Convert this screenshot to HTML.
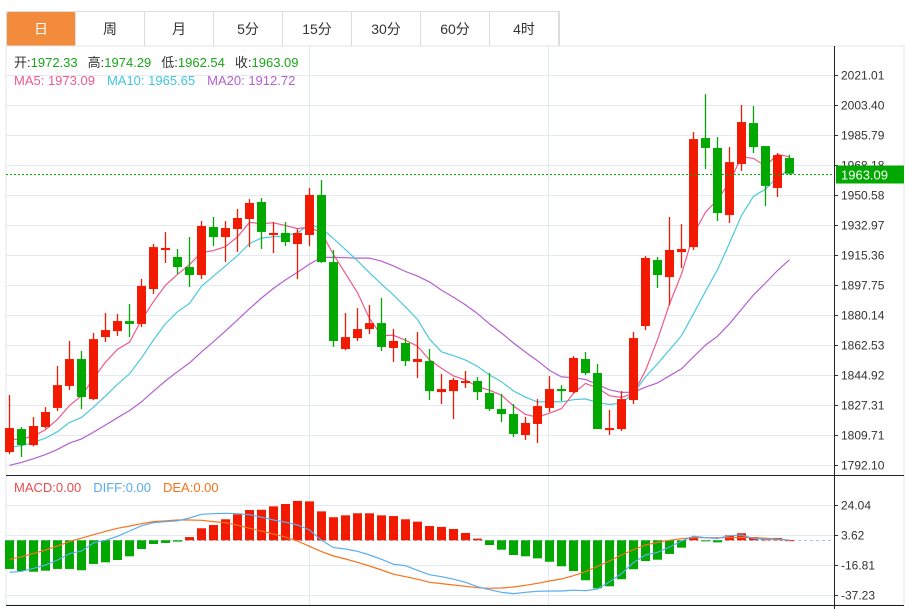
<!DOCTYPE html>
<html><head><meta charset="utf-8"><style>
body{margin:0;background:#fff;width:910px;height:609px;overflow:hidden;font-family:"Liberation Sans","Noto Sans CJK SC",sans-serif}
#tabs{position:absolute;left:6px;top:11px;height:34px;display:flex;border:1px solid #dcdcdc;border-bottom:none}
.tab{width:69px;height:34px;line-height:34px;text-align:center;font-size:14px;color:#333;border-right:1px solid #dcdcdc;box-sizing:border-box}
.tab.on{background:#f28c3c;color:#fff;border-radius:2px}
svg{position:absolute;left:0;top:0}
</style></head><body>
<div id="tabs">
<div class="tab on">日</div>
<div class="tab">周</div>
<div class="tab">月</div>
<div class="tab">5分</div>
<div class="tab">15分</div>
<div class="tab">30分</div>
<div class="tab">60分</div>
<div class="tab">4时</div>
</div>
<svg id="chart" width="910" height="609" font-family="Liberation Sans, Noto Sans CJK SC, sans-serif"></svg>
<script>
const opens=[1799.7,1813.2,1803.8,1814.4,1825.6,1838.5,1854.3,1830.8,1867.2,1870.7,1876.6,1874.9,1895.4,1918.3,1914.2,1908.3,1903.6,1931.8,1925.9,1930.6,1936.5,1946.5,1927.1,1928.3,1921.8,1927.1,1950.6,1911.2,1860.2,1866.6,1871.9,1875.4,1860.8,1863.7,1852.6,1853.1,1834.9,1835.5,1840.2,1841.4,1834.4,1825.0,1822.0,1809.7,1816.2,1825.6,1836.7,1834.9,1854.3,1846.1,1812.6,1813.2,1830.2,1873.7,1912.4,1902.4,1917.1,1920.0,1984.0,1978.2,1938.8,1968.8,1992.8,1979.3,1954.7,1972.33];
const highs=[1833.2,1814.4,1820.3,1826.1,1850.2,1864.9,1859.0,1869.6,1881.3,1880.7,1886.6,1901.3,1921.8,1928.9,1918.9,1925.9,1935.3,1937.7,1935.3,1942.4,1948.2,1948.8,1934.7,1934.7,1930.6,1954.7,1959.4,1918.3,1881.3,1884.2,1886.0,1890.1,1871.9,1866.6,1870.2,1860.2,1845.5,1843.2,1847.3,1843.7,1846.1,1833.8,1827.9,1820.3,1830.8,1844.3,1839.0,1856.1,1858.4,1851.4,1824.4,1835.5,1870.2,1914.8,1914.2,1937.7,1933.5,1987.5,2009.8,1984.6,1978.7,2003.4,2002.8,1979.3,1975.2,1974.29];
const lows=[1798.5,1796.8,1803.0,1813.5,1823.8,1836.1,1825.0,1830.2,1864.3,1867.8,1867.2,1873.1,1892.5,1910.7,1904.2,1896.6,1901.3,1920.6,1911.2,1917.1,1920.0,1918.9,1916.5,1920.6,1901.3,1920.6,1910.7,1861.4,1859.5,1864.9,1869.0,1859.0,1852.6,1850.2,1843.2,1830.2,1827.9,1819.1,1837.3,1830.2,1823.8,1817.3,1808.5,1806.8,1805.0,1823.2,1829.7,1834.4,1844.9,1813.2,1809.7,1812.1,1827.9,1871.3,1896.0,1886.0,1907.7,1918.3,1965.8,1935.3,1934.1,1964.7,1975.2,1944.1,1949.4,1962.54];
const closes=[1813.8,1803.8,1815.0,1823.2,1839.0,1854.3,1832.0,1866.0,1871.3,1876.6,1874.9,1897.2,1920.0,1919.5,1908.3,1903.6,1932.4,1925.9,1931.2,1937.1,1945.9,1928.9,1928.3,1923.0,1928.3,1950.6,1911.2,1864.9,1867.2,1871.9,1875.4,1861.4,1864.9,1853.1,1854.3,1835.5,1836.7,1842.0,1841.4,1834.9,1825.0,1822.0,1810.3,1816.8,1826.7,1836.7,1835.5,1854.9,1846.1,1813.2,1813.8,1830.8,1866.6,1913.6,1903.6,1918.3,1918.9,1983.4,1978.2,1940.0,1969.9,1993.4,1978.7,1955.9,1974.0,1963.09];
const priorCloses=[1770,1772,1775,1778,1780,1783,1786,1788,1790,1792,1794,1796,1798,1801,1800,1803,1806,1805,1808];
const macdBars=[-19.5,-20.9,-21.4,-20.7,-19.5,-19.5,-20.4,-16.1,-15.0,-13.4,-10.9,-5.9,-2.5,-1.8,-0.9,2.2,8.2,10.4,14.3,17.7,20.6,20.8,23.1,24.7,26.8,26.5,19.7,15.7,17.0,18.4,18.4,17.0,16.5,14.3,12.7,9.7,9.1,7.7,5.0,1.1,-3.2,-6.4,-10.0,-10.9,-12.3,-14.6,-17.7,-20.9,-27.2,-32.7,-31.3,-26.5,-19.7,-14.1,-13.2,-9.3,-5.0,2.2,-0.3,-1.4,3.4,4.8,2.2,0.7,1.6,0.1];
const diffVals=[-21.8,-21.1,-19.1,-16.8,-13.4,-9.1,-7.3,-1.8,0,2.7,6.3,9.9,12.0,12.7,13.3,15.2,17.7,18.1,18.4,18.1,17.4,15.7,13.8,12.3,10.4,7.0,0,-5.0,-5.9,-7.5,-10.0,-12.9,-16.3,-17.3,-20.4,-23.4,-24.8,-26.5,-28.6,-31.6,-33.6,-35.4,-36.3,-35.4,-34.7,-34.5,-34.5,-34.0,-34.3,-33.2,-28.2,-22.7,-15.2,-10.0,-8.2,-4.6,-0.5,2.7,1.8,1.3,3.1,3.6,1.3,0.7,0.7,0.1];
const deaVals=[-12.9,-11.2,-8.9,-6.6,-3.9,-0.9,1.4,3.8,6.1,8.2,9.7,11.3,12.7,13.3,13.8,13.8,13.6,12.7,12.0,10.2,8.2,6.3,4.3,2.2,-0.5,-4.1,-7.7,-10.7,-12.7,-15.0,-17.5,-20.2,-23.1,-24.8,-26.5,-28.6,-29.5,-30.4,-31.3,-32.3,-32.7,-32.5,-31.8,-30.6,-29.3,-27.7,-26.3,-24.1,-21.4,-17.7,-14.1,-10.0,-6.4,-3.2,-1.4,0,1.1,1.8,1.8,1.8,1.8,2.0,1.8,1.4,0.9,0];
const priceTicks=[2021.01,2003.40,1985.79,1968.18,1950.58,1932.97,1915.36,1897.75,1880.14,1862.53,1844.92,1827.31,1809.71,1792.10];
const macdTicks=[24.04,3.62,-16.81,-37.23];

const NS='http://www.w3.org/2000/svg';
const svg=document.getElementById('chart');
function mk(tag,attrs,parent){const e=document.createElementNS(NS,tag);for(const k in attrs)e.setAttribute(k,attrs[k]);(parent||svg).appendChild(e);return e;}
const xOf=i=>9.5+12*i;
const yP=p=>75+(2021.01-p)*1.7038;
const yM=v=>540.3-v*1.469;
const RED='#f21a00',GREEN='#00a800';

let e;
e=mk('rect',{x:6,y:46,width:898,height:559,fill:'none',stroke:'#e0e6ea','stroke-width':1});


[309.5,548.5].forEach(x=>{e=mk('line',{x1:x,y1:46,x2:x,y2:605,stroke:'#e0e9f0'});

});
priceTicks.forEach(t=>{const y=Math.round(yP(t))+0.5;
e=mk('line',{x1:6,y1:y,x2:834,y2:y,stroke:'#e3eaf0'});


mk('line',{x1:834,y1:y,x2:838,y2:y,stroke:'#333'});
e=mk('text',{x:841,y:y+4,'font-size':12,fill:'#333'});e.textContent=t.toFixed(2);

});
macdTicks.forEach(t=>{const y=Math.round(yM(t))+0.5;
e=mk('line',{x1:6,y1:y,x2:834,y2:y,stroke:'#e3eaf0'});


mk('line',{x1:834,y1:y,x2:838,y2:y,stroke:'#333'});
e=mk('text',{x:841,y:y+4,'font-size':12,fill:'#333'});e.textContent=t.toFixed(2);

});
e=mk('line',{x1:834.5,y1:46,x2:834.5,y2:609,stroke:'#222'});


e=mk('line',{x1:6,y1:475.5,x2:904,y2:475.5,stroke:'#222'});


e=mk('line',{x1:6,y1:605.5,x2:904,y2:605.5,stroke:'#222'});



const all=priorCloses.concat(closes);
function ma(n){return closes.map((c,i)=>{let s=0;const j=i+priorCloses.length;for(let k=j-n+1;k<=j;k++)s+=all[k];return s/n;});}
[[20,'#b560d0','ma20-line'],[10,'#4cc9dd','ma10-line'],[5,'#ef5a8a','ma5-line']].forEach(([n,c,nm])=>{
const v=ma(n);
e=mk('polyline',{points:v.map((p,i)=>xOf(i)+','+yP(p).toFixed(1)).join(' '),fill:'none',stroke:c,'stroke-width':1.2});

});

closes.forEach((c,i)=>{const o=opens[i],up=c>=o,col=up?RED:GREEN,x=xOf(i);
e=mk('line',{x1:x,y1:yP(highs[i]),x2:x,y2:yP(lows[i]),stroke:col,'stroke-width':1.3});


const t=yP(Math.max(o,c)),b=yP(Math.min(o,c));
e=mk('rect',{x:x-4.5,y:t,width:9,height:Math.max(b-t,1.5),fill:col});

});

const last=closes[closes.length-1],ly=Math.round(yP(last))+0.5;
e=mk('line',{x1:6,y1:ly,x2:834,y2:ly,stroke:'#00b000','stroke-dasharray':'2,2'});


e=mk('rect',{x:836,y:ly-9,width:68,height:18,fill:'#00a800'});


e=mk('text',{x:841,y:ly+5,'font-size':13,fill:'#fff'});e.textContent=last.toFixed(2);



e=mk('line',{x1:6,y1:540.5,x2:834,y2:540.5,stroke:'#a8c8dc','stroke-dasharray':'3,3'});


macdBars.forEach((v,i)=>{const x=xOf(i),y0=yM(0),y1=yM(v);
e=mk('rect',{x:x-4.5,y:Math.min(y0,y1),width:9,height:Math.max(Math.abs(y1-y0),1),fill:v>=0?RED:GREEN});

});
e=mk('polyline',{points:deaVals.map((v,i)=>xOf(i)+','+yM(v).toFixed(1)).join(' '),fill:'none',stroke:'#f7731c','stroke-width':1.2});


e=mk('polyline',{points:diffVals.map((v,i)=>xOf(i)+','+yM(v).toFixed(1)).join(' '),fill:'none',stroke:'#5aacf0','stroke-width':1.2});



function legend(items,y,nm){const t=mk('text',{x:14,y:y,'font-size':13});


items.forEach(([s,c,dx])=>{const ts=mk('tspan',{fill:c},t);if(dx)ts.setAttribute('dx',dx);ts.textContent=s;});}
legend([['开:','#333'],['1972.33','#1aa51a'],['高:','#333',10],['1974.29','#1aa51a'],['低:','#333',10],['1962.54','#1aa51a'],['收:','#333',10],['1963.09','#1aa51a']],67,'ohlc-legend');
legend([['MA5: 1973.09','#ef5a8a'],['MA10: 1965.65','#3fc6dc',12],['MA20: 1912.72','#b560d0',12]],85,'ma-legend');
legend([['MACD:0.00','#e94c4c'],['DIFF:0.00','#5aacf0',12],['DEA:0.00','#f7731c',12]],492,'macd-legend');
</script>
</body></html>
